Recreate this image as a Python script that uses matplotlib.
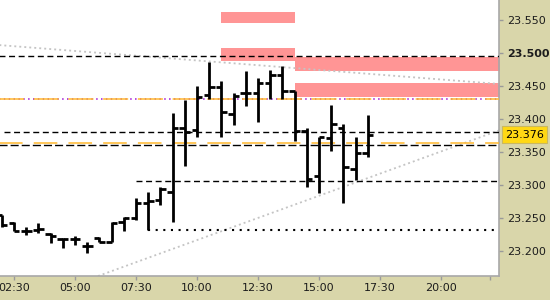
import matplotlib
matplotlib.use("Agg")
import matplotlib.pyplot as plt
import numpy as np

plt.rcParams['font.family'] = 'DejaVu Sans'
plt.rcParams['font.size'] = 8
plt.rcParams['lines.scale_dashes'] = False

# 30 minute bars, time in hours of the day
times = np.arange(2.0, 17.01, 0.5)
opens = [23.254, 23.243, 23.231, 23.232, 23.226, 23.218, 23.218, 23.207, 23.220, 23.214,
         23.244, 23.250, 23.273, 23.277, 23.290, 23.387, 23.384, 23.437, 23.449, 23.407,
         23.439, 23.439, 23.454, 23.467, 23.443, 23.382, 23.313, 23.371, 23.386, 23.324, 23.349]
highs = [23.254, 23.244, 23.237, 23.242, 23.227, 23.220, 23.223, 23.214, 23.221, 23.244,
         23.252, 23.280, 23.290, 23.297, 23.409, 23.429, 23.450, 23.487, 23.458, 23.439,
         23.472, 23.462, 23.474, 23.480, 23.443, 23.387, 23.373, 23.421, 23.393, 23.373, 23.406]
lows = [23.237, 23.230, 23.224, 23.227, 23.212, 23.205, 23.209, 23.197, 23.213, 23.213,
        23.230, 23.247, 23.232, 23.270, 23.244, 23.329, 23.373, 23.430, 23.372, 23.391,
        23.419, 23.396, 23.431, 23.431, 23.366, 23.297, 23.288, 23.352, 23.273, 23.307, 23.342]
closes = [23.240, 23.231, 23.231, 23.234, 23.223, 23.218, 23.218, 23.207, 23.214, 23.243,
          23.250, 23.273, 23.276, 23.294, 23.387, 23.381, 23.434, 23.449, 23.411, 23.435,
          23.439, 23.454, 23.467, 23.443, 23.382, 23.309, 23.373, 23.393, 23.328, 23.349, 23.376]
last_price = 23.376

# zones: start, end, low, high
zone_start = [11.0, 11.0, 14.0, 14.0]
zone_end = [14.0, 14.0, 22.5, 22.5]
zone_low = [23.5455, 23.488, 23.4727, 23.433]
zone_high = [23.562, 23.5076, 23.4944, 23.455]

# trend lines (two points each)
trend_down_t = [1.9, 22.4]
trend_down_p = [23.512, 23.453]
trend_up_t = [5.94, 22.4]
trend_up_p = [23.162, 23.383]

# horizontal levels: price, start time
lvl_black_dash = [(23.495, 1.9), (23.380, 2.1), (23.306, 7.5)]
lvl_black_long = (23.360, 1.9)
lvl_orange = (23.363, 1.9)
lvl_orange_purple = (23.431, 1.9)
lvl_dotted = (23.232, 8.0)

xticks = [2.5, 5.0, 7.5, 10.0, 12.5, 15.0, 17.5, 20.0, 22.0]
xticklabels = ['02:30', '05:00', '07:30', '10:00', '12:30', '15:00', '17:30', '20:00', '']
yticks = [23.20, 23.25, 23.30, 23.35, 23.40, 23.45, 23.50, 23.55]

beige = '#d9d6aa'
xmax = 22.377

fig = plt.figure(figsize=(5.5, 3), dpi=100, facecolor=beige)
ax = fig.add_axes([0, 24 / 300, 499 / 550, 276 / 300])
ax.set_facecolor('white')

for s, e, lo, hi in zip(zone_start, zone_end, zone_low, zone_high):
    ax.fill_between([s, e], lo, hi, color='#ff9595', lw=0, zorder=1)

ax.plot(trend_down_t, trend_down_p, color='#c4c4c4', lw=1.3, ls=(0, (1.4, 2.2)), zorder=2)
ax.plot(trend_up_t, trend_up_p, color='#c4c4c4', lw=1.3, ls=(0, (1.4, 2.2)), zorder=2)

for p, t0 in lvl_black_dash:
    ax.plot([t0, xmax], [p, p], color='black', lw=1, ls=(0, (4.3, 2.6)), zorder=3)
ax.plot([lvl_black_long[1], xmax], [lvl_black_long[0]] * 2, color='black', lw=1,
        ls=(0, (5.8, 2.2)), zorder=3)
ax.plot([lvl_orange[1], xmax], [lvl_orange[0]] * 2, color='#ffb82e', lw=1.1,
        ls=(0, (17, 8)), zorder=3)
ax.plot([lvl_orange_purple[1], xmax], [lvl_orange_purple[0]] * 2, color='#9a00d0', lw=1.1,
        ls=(0, (1, 2.5)), zorder=3)
ax.plot([lvl_orange_purple[1], xmax], [lvl_orange_purple[0]] * 2, color='#ffb82e', lw=1.1,
        ls=(0, (18, 7)), zorder=3)
ax.plot([lvl_dotted[1], xmax], [lvl_dotted[0]] * 2, color='black', lw=1.5,
        ls=(0, (1.5, 4)), zorder=3)

# OHLC bars
tick = 0.22
ax.vlines(times, lows, highs, color='black', lw=2, zorder=4)
ax.hlines(opens, times - tick, times, color='black', lw=2, zorder=4)
ax.hlines(closes, times, times + tick, color='black', lw=2, zorder=4)

ax.set_xlim(1.926, xmax)
ax.set_ylim(23.1621, 23.5803)

ax.yaxis.tick_right()
ax.set_yticks(yticks)
ax.set_yticklabels(['%.3f' % v for v in yticks])
for lab, v in zip(ax.get_yticklabels(), yticks):
    if abs(v - 23.50) < 1e-9:
        lab.set_fontweight('bold')
ax.set_xticks(xticks)
ax.set_xticklabels(xticklabels)
ax.tick_params(axis='both', colors='#9a9a9a', labelcolor='#1c1c1c', length=3, width=1,
               labelsize=8)
ax.tick_params(axis='y', pad=3)
ax.tick_params(axis='x', pad=2)

for side in ['left', 'top']:
    ax.spines[side].set_visible(False)
for side in ['right', 'bottom']:
    ax.spines[side].set_color('#a8a8a8')
    ax.spines[side].set_linewidth(1.2)

# last price marker
ax.text(1.012, last_price, '%.3f' % last_price, transform=ax.get_yaxis_transform(),
        va='center', ha='left', fontsize=8, color='black', zorder=10, clip_on=False,
        bbox=dict(boxstyle='square,pad=0.3', facecolor='#ffd814', edgecolor='#c9b860', lw=0.8))

fig.savefig('out.png', dpi=100, facecolor=beige)
